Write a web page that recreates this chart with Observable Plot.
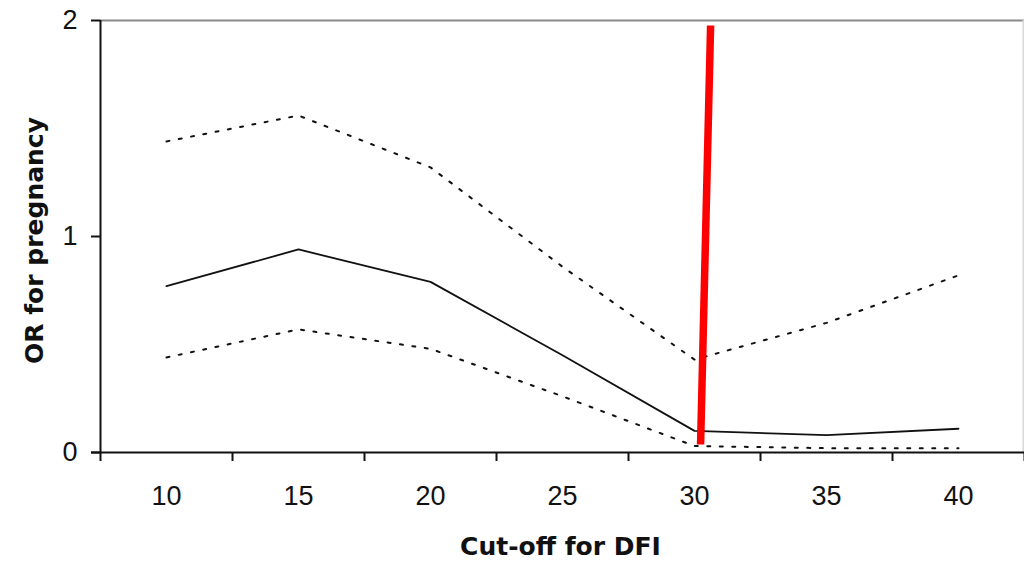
<!DOCTYPE html>
<html>
<head>
<meta charset="utf-8">
<script src="https://cdn.jsdelivr.net/npm/d3@7"></script>
<script src="https://cdn.jsdelivr.net/npm/@observablehq/plot@0.6"></script>
<style>
  html, body { margin: 0; padding: 0; background: #fff; }
  #chart { width: 1024px; height: 564px; }
</style>
</head>
<body>
<div id="chart"></div>
<script>
// Data
const cutoffs = [10, 15, 20, 25, 30, 35, 40];
const orValues = [0.77, 0.94, 0.79, 0.45, 0.10, 0.08, 0.11];
const upperCI = [1.44, 1.56, 1.32, 0.86, 0.43, 0.60, 0.82];
const lowerCI = [0.44, 0.57, 0.48, 0.26, 0.03, 0.02, 0.02];
const yTicks = [0, 1, 2];
// category boundaries (tick marks between categories)
const xBoundaries = [7.5, 12.5, 17.5, 22.5, 27.5, 32.5, 37.5, 42.5];
// hand-drawn red marker line (data coordinates)
const markerX = [30.23, 30.61];
const markerY = [0.037, 1.977];

const rows = (vals) => cutoffs.map((c, i) => ({x: c, y: vals[i]}));
const marker = markerX.map((x, i) => ({x, y: markerY[i]}));

const chart = Plot.plot({
  width: 1024,
  height: 564,
  marginLeft: 100,
  marginRight: 0,
  marginTop: 20,
  marginBottom: 112,
  style: {background: "#fff", overflow: "visible"},
  x: {domain: [7.5, 42.5], axis: null},
  y: {domain: [0, 2], axis: null},
  marks: [
    // frame: top (gray) and right (light gray)
    Plot.ruleY([2], {stroke: "#8a8a8a", strokeWidth: 2}),
    Plot.ruleX([42.45], {stroke: "#d8d8d8", strokeWidth: 1.5}),
    // confidence intervals (dotted)
    Plot.line(rows(upperCI), {x: "x", y: "y", stroke: "#111", strokeWidth: 2, strokeDasharray: "3,9.5"}),
    Plot.line(rows(lowerCI), {x: "x", y: "y", stroke: "#111", strokeWidth: 2, strokeDasharray: "3,9.5"}),
    // OR line
    Plot.line(rows(orValues), {x: "x", y: "y", stroke: "#111", strokeWidth: 1.8}),
    // red marker line
    Plot.line(marker, {x: "x", y: "y", stroke: "#ff0000", strokeWidth: 7.5, strokeLinecap: "butt"}),
    // axes
    Plot.ruleX([7.5], {stroke: "#111", strokeWidth: 2}),
    Plot.ruleY([0], {stroke: "#111", strokeWidth: 2, x1: 7.16, x2: 42.5}),
    Plot.axisY(yTicks, {
      tickSize: 9, tickPadding: 14, tickFormat: d => String(d),
      fontSize: 27, fontFamily: "Liberation Sans, Arial, sans-serif",
      stroke: "#111", strokeWidth: 2, fill: "#111", label: null
    }),
    Plot.axisX(xBoundaries, {
      tickSize: 9, tickFormat: () => "", stroke: "#111", strokeWidth: 2, label: null
    }),
    Plot.axisX(cutoffs, {
      tickSize: 0, tickPadding: 33, tickFormat: d => String(d),
      fontSize: 27, fontFamily: "Liberation Sans, Arial, sans-serif",
      fill: "#111", label: null
    }),
    // axis titles
    Plot.text(["Cut-off for DFI"], {
      frameAnchor: "bottom", dy: 102, text: d => d,
      fontSize: 25, fontWeight: "bold", fontFamily: "DejaVu Sans, Verdana, sans-serif",
      fill: "#111", lineAnchor: "bottom", dx: -2
    }),
    Plot.text(["OR for pregnancy"], {
      frameAnchor: "left", dx: -66, dy: 4, rotate: -90, textAnchor: "middle", text: d => d,
      fontSize: 25, fontWeight: "bold", fontFamily: "DejaVu Sans, Verdana, sans-serif",
      fill: "#111"
    })
  ]
});
document.getElementById("chart").appendChild(chart);
</script>
</body>
</html>
